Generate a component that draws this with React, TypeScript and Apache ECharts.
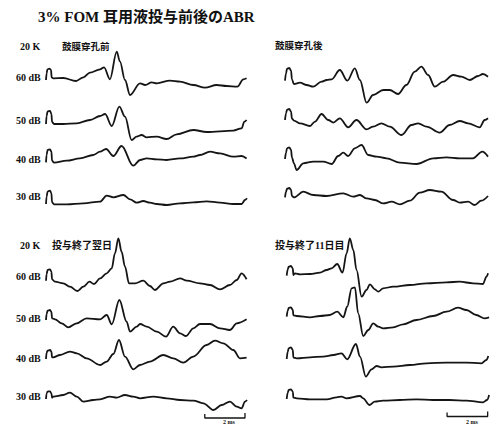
import React, { useEffect, useRef } from "react";
import * as echarts from "echarts";

type Pt = [number, number];

// ---- texts ----
const TITLE = "3% FOM 耳用液投与前後のABR";
const FREQ_LABEL = "20 K";
const LEVELS = ["60 dB", "50 dB", "40 dB", "30 dB"];
const PANEL_TITLES = ["鼓膜穿孔前", "鼓膜穿孔後", "投与終了翌日", "投与終了11日目"];
const SCALE_BAR_MS = [7.9, 9.9];
const SCALE_LABEL = "2 ms";

// ---- waveforms: [time (ms), amplitude] ----
// 鼓膜穿孔前
const before60: Pt[] = [[0,-1.7],[0.03,5],[0.07,9],[0.17,9.7],[0.25,8.3],[0.28,1],[0.36,0],[0.86,0.3],[1.49,-2.7],[1.86,1],[2.19,5.7],[2.69,9],[2.89,11],[3.18,-1],[3.52,26.7],[3.68,16.7],[3.93,-1.7],[4.18,-16.7],[4.68,-5],[4.93,-6.7],[5.26,-4],[5.51,-5],[6.17,-2.3],[6.67,-3.3],[7.33,-6.7],[7.91,-9.3],[8.49,-6.7],[8.99,-7.7],[9.52,-8.3],[9.82,-1],[9.98,0]];
const before50: Pt[] = [[0,-0.7],[0.03,7.3],[0.08,12],[0.2,12.3],[0.27,9.3],[0.3,1.3],[0.4,-0.7],[0.86,-0.7],[1.53,0],[2.19,3.3],[2.69,7.3],[2.94,9.3],[3.27,-2.7],[3.65,16.7],[3.93,6.7],[4.26,-16.7],[4.51,-13.3],[4.76,-11.7],[5.01,-14],[5.51,-13.3],[6.0,-15.7],[6.5,-11],[7.33,-6.7],[7.99,-8.7],[9.32,-7.3],[9.73,-5],[9.87,1.7],[9.98,3.3]];
const before40: Pt[] = [[0,-0.7],[0.03,6.7],[0.08,11.7],[0.2,12.3],[0.27,10],[0.3,1],[0.4,-1],[1.03,1],[1.69,3.3],[2.35,6.7],[2.69,10],[2.99,12.7],[3.35,5.7],[3.76,15.7],[4.34,-4],[4.68,1.7],[5.01,3.3],[5.51,2.3],[6.0,1.7],[6.67,3.3],[7.33,5],[7.66,6.7],[8.16,10],[8.66,8.3],[9.32,5],[9.73,5.7],[9.98,3.3]];
const before30: Pt[] = [[0,-0.7],[0.03,6.7],[0.08,11.7],[0.2,12.7],[0.27,10],[0.3,1],[0.4,-1],[1.03,-1],[1.86,0],[2.69,1.7],[3.02,7.7],[3.35,6],[3.85,8.3],[4.18,4],[4.51,0.7],[4.84,2.3],[5.17,0.7],[5.51,-0.7],[6.0,-1.7],[6.67,0],[7.33,1],[7.99,2],[8.66,0.7],[9.32,-0.7],[9.73,-0.7],[9.9,3.3],[10,5]];
// 鼓膜穿孔後
const after60: Pt[] = [[0,-0.7],[0.05,6.7],[0.1,11.3],[0.21,12],[0.3,9.3],[0.34,0.7],[0.44,-4],[0.74,-2.7],[1.07,-5],[1.39,-6.7],[1.8,-1.7],[2.05,0],[2.3,0.7],[2.7,10],[3.07,-0.7],[3.44,11.7],[3.69,0],[4.02,-22.7],[4.34,-15],[4.84,-10],[5.16,-10],[5.57,-14],[5.98,-5],[6.39,8.3],[6.72,13.3],[7.05,5],[7.38,-6.7],[7.79,-1.7],[8.28,5],[8.69,3.3],[9.1,0],[9.51,4],[9.75,6],[10,3.3]];
const after50: Pt[] = [[0,-0.7],[0.05,6],[0.1,9.7],[0.21,10.3],[0.3,7.7],[0.34,0.7],[0.44,-1.3],[0.74,-4],[1.23,-6.7],[1.48,-2.3],[1.8,5.3],[2.13,-0.7],[2.38,-3.3],[2.7,1],[3.11,-8],[3.52,-0.7],[4.02,-10],[4.34,-7.3],[4.75,-4],[5.16,-7.3],[5.74,-15.7],[6.23,-5.7],[6.56,-4],[6.97,-7.3],[7.62,-13.3],[8.11,-5.7],[8.61,-1.7],[9.02,-4],[9.59,-8],[9.84,-0.7],[10,1]];
const after40: Pt[] = [[0,-0.7],[0.05,5.7],[0.1,10],[0.21,11],[0.3,8.3],[0.34,1],[0.44,-5],[0.57,-11.7],[0.9,-5],[1.39,-3.3],[1.89,-3.3],[2.3,-5.7],[2.62,2.3],[2.87,5.7],[3.11,2.3],[3.44,10],[3.77,13.3],[4.1,3.3],[4.51,1.7],[5.0,0],[5.66,-4.3],[6.48,-5.7],[7.3,0],[7.95,1],[8.61,0],[9.26,0],[9.72,6.7],[10,1.7]];
const after30: Pt[] = [[0,-0.7],[0.05,5],[0.1,8],[0.21,8.7],[0.3,6.7],[0.34,0.7],[0.44,-0.7],[0.9,5],[1.39,1.7],[2.05,0.7],[2.87,3.3],[3.36,0],[3.69,1.7],[4.02,-1.7],[4.43,-3.3],[4.84,-6.7],[5.25,-5],[5.66,-7.7],[6.15,-4],[6.64,4],[7.13,6.7],[7.7,5],[8.28,-3.3],[8.61,-6],[9.02,-5],[9.34,-8.3],[9.67,-4],[10,0.7]];
// 投与終了翌日
const day1_60: Pt[] = [[0,-0.7],[0.03,6],[0.08,10],[0.2,10.7],[0.27,8.3],[0.3,0.7],[0.45,-1.7],[0.86,-3.3],[1.19,-6.7],[1.56,-11],[1.86,-6.7],[2.16,-1.7],[2.39,-4],[2.69,1.7],[3.02,6.7],[3.27,11.7],[3.43,26.7],[3.6,41.7],[3.76,28.3],[3.93,13.3],[4.13,-3.3],[4.43,-3.3],[4.84,-0.7],[5.17,-6],[5.42,-10],[5.84,-3.3],[6.17,-1.7],[6.67,1.7],[7.0,-0.7],[7.66,-3.3],[8.16,-5],[8.66,-9.3],[9.15,-5],[9.49,0],[9.73,6.7],[9.98,0.7]];
const day1_50: Pt[] = [[0,-0.7],[0.03,5.3],[0.08,8.7],[0.2,9.3],[0.27,7.3],[0.3,1],[0.45,0],[0.78,-4],[1.11,-8],[1.53,-4],[2.02,1],[2.69,0],[3.02,4.3],[3.27,-5],[3.65,19.3],[4.01,-2.3],[4.18,-12.3],[4.51,-7.3],[4.68,-4.7],[5.01,-7.3],[5.51,-12.3],[5.97,-17.3],[6.33,-7.3],[6.67,-14],[6.97,-16.7],[7.33,-9],[7.66,-4.7],[8.16,-4.7],[8.66,-9],[9.15,-10.7],[9.49,-4],[9.98,0]];
const day1_40: Pt[] = [[0,-0.7],[0.03,5.7],[0.08,7.7],[0.2,8.3],[0.27,6.7],[0.3,1],[0.36,1],[0.7,3.3],[1.19,6.7],[1.53,5],[2.02,0],[2.69,-6.7],[3.02,-3.3],[3.35,4.3],[3.63,18.3],[3.93,1.7],[4.34,-11],[4.68,-6.7],[5.17,-3.3],[5.84,3.3],[6.33,0],[6.83,-4.3],[7.33,1.7],[7.99,13.3],[8.41,17.7],[8.82,15],[9.32,8.3],[9.65,0],[9.98,0.7]];
const day1_30: Pt[] = [[0,-0.7],[0.03,5],[0.08,6.7],[0.2,7],[0.27,5],[0.3,0.7],[0.36,1.7],[0.86,3.3],[1.19,5.7],[1.53,1.7],[1.86,-3.3],[2.35,-1.7],[2.69,-1],[3.18,1.7],[3.52,0.7],[3.93,3.3],[4.34,1.7],[4.68,0],[5.34,1.7],[6.0,0],[6.67,-1.7],[7.33,-2.3],[7.83,-5],[8.33,-11.7],[8.74,-6.7],[9.15,-3.3],[9.49,-8.3],[9.73,-10],[9.9,-3.3],[10,-1.7]];
// 投与終了11日目
const day11_60: Pt[] = [[0,-0.7],[0.05,5.7],[0.1,8.3],[0.21,9],[0.3,6.7],[0.33,0],[0.41,1.7],[0.66,0.7],[1.15,1],[1.64,2.3],[1.97,5],[2.21,6.7],[2.49,11],[2.75,2.3],[2.95,21.7],[3.11,36.7],[3.28,25],[3.44,5],[3.69,-21.7],[3.93,-15],[4.1,-9.3],[4.34,-14.3],[4.51,-16.7],[4.75,-13.3],[5.25,-11.7],[6.07,-10],[6.89,-8.3],[7.87,-7.3],[8.52,-6.7],[9.18,-8.3],[9.67,-9],[9.84,-1.7],[9.92,1.7]];
const day11_50: Pt[] = [[0,-0.7],[0.05,5.3],[0.1,8],[0.21,8.7],[0.3,6],[0.33,0.7],[0.49,0],[1.15,-1.3],[1.64,0],[2.13,1],[2.49,4.3],[2.79,-1.3],[2.98,9.3],[3.2,27.7],[3.36,28.7],[3.52,2.7],[3.77,-20],[4.02,-14],[4.26,-7.3],[4.51,-10.7],[4.75,-12.3],[5.25,-11.3],[5.74,-8.3],[6.39,-4],[7.21,0],[7.87,4.3],[8.44,8.3],[8.85,6],[9.34,1],[9.75,-2.3],[9.97,-1.3]];
const day11_40: Pt[] = [[0,-0.7],[0.05,6.7],[0.1,10],[0.21,11],[0.3,8.3],[0.33,0.7],[0.49,0],[1.15,1],[1.8,1.7],[2.3,3.3],[2.7,5],[2.98,-1],[3.41,14.3],[3.61,1.7],[3.9,-18.3],[4.18,-11],[4.43,-7.7],[4.67,-9],[5.25,-8.3],[6.07,-6.7],[6.89,-5],[7.87,-4.3],[8.85,-4.3],[9.59,-5],[9.84,-1.7],[9.93,2.3]];
const day11_30: Pt[] = [[0,-0.7],[0.05,5.7],[0.1,8.3],[0.21,9],[0.3,6.7],[0.33,0.7],[0.49,0],[1.15,-1],[1.97,-1],[2.46,1],[2.7,1.7],[2.95,0],[3.61,2.3],[3.77,0],[4.07,-6.7],[4.34,-3.3],[4.75,-2.3],[5.57,-1.7],[6.39,-1],[7.21,-1.7],[8.03,-1.7],[8.85,-2.3],[9.67,-4],[9.87,-1.7],[9.97,3.3]];

// ---- layout (pixels) ----
const W = 491;
const H = 425;
const PANELS = [
  { left: 46, width: 201, baselines: [78.3, 123.3, 161.7, 203.3], traces: [before60, before50, before40, before30] },
  { left: 285, width: 203, baselines: [80, 119.3, 158.3, 196.7], traces: [after60, after50, after40, after30] },
  { left: 46, width: 201, baselines: [280, 319.3, 358.3, 398.3], traces: [day1_60, day1_50, day1_40, day1_30] },
  { left: 286.7, width: 203, baselines: [275, 316, 358.3, 398.3], traces: [day11_60, day11_50, day11_40, day11_30] },
];
const LEVEL_Y = [[77.7, 120, 159, 196.7], [276.7, 318, 358, 396.7]];
const SCALE_BAR_Y = [418, 416.5];

const FONT = '"Liberation Serif", "Noto Sans CJK JP", serif';

function txt(text: string, x: number, y: number, size: number, align = "left", vAlign = "middle") {
  return {
    type: "text",
    x,
    y,
    silent: true,
    style: { text, fill: "#111", font: `bold ${size}px ${FONT}`, align, verticalAlign: vAlign },
  };
}

export default function App() {
  const ref = useRef<HTMLDivElement>(null);
  useEffect(() => {
    document.body.style.margin = "0";
    if (!ref.current) return;
    const chart = echarts.init(ref.current, undefined, { renderer: "svg" });

    const grid: any[] = [];
    const xAxis: any[] = [];
    const yAxis: any[] = [];
    const series: any[] = [];
    PANELS.forEach((p, gi) => {
      grid.push({ left: p.left, width: p.width, top: 0, height: H });
      xAxis.push({ type: "value", gridIndex: gi, min: 0, max: 10, show: false });
      yAxis.push({ type: "value", gridIndex: gi, min: -H, max: 0, show: false });
      p.traces.forEach((tr, k) => {
        series.push({
          type: "line",
          xAxisIndex: gi,
          yAxisIndex: gi,
          data: tr.map(([t, a]) => [t, a - p.baselines[k]]),
          smooth: 0.35,
          smoothMonotone: "x",
          symbol: "none",
          silent: true,
          lineStyle: { color: "#151515", width: 1.8 },
        });
      });
    });
    // scale bars on the bottom panels
    [2, 3].forEach((gi, i) => {
      const yb = -SCALE_BAR_Y[i];
      series.push({
        type: "line",
        xAxisIndex: gi,
        yAxisIndex: gi,
        data: [[SCALE_BAR_MS[0], yb + 4], [SCALE_BAR_MS[0], yb], [SCALE_BAR_MS[1], yb], [SCALE_BAR_MS[1], yb + 5]],
        symbol: "none",
        silent: true,
        lineStyle: { color: "#151515", width: 1.3 },
      });
    });

    const graphic: any[] = [
      txt(TITLE, 38, 17, 15),
      txt(FREQ_LABEL, 20, 46.5, 10),
      txt(PANEL_TITLES[0], 62, 46.5, 9.5),
      txt(PANEL_TITLES[1], 275, 46, 9.5),
      txt(FREQ_LABEL, 20, 245, 10),
      txt(PANEL_TITLES[2], 52, 245, 10),
      txt(PANEL_TITLES[3], 275, 245, 10),
      txt(SCALE_LABEL, 229, 425, 6, "center", "bottom"),
      txt(SCALE_LABEL, 472, 425, 6, "center", "bottom"),
    ];
    LEVEL_Y.forEach((ys) => ys.forEach((y, k) => graphic.push(txt(LEVELS[k], 16, y, 10))));

    chart.setOption({
      animation: false,
      backgroundColor: "#fff",
      grid,
      xAxis,
      yAxis,
      series,
      graphic,
    });
    return () => chart.dispose();
  }, []);
  return <div ref={ref} style={{ width: W, height: H }} />;
}
